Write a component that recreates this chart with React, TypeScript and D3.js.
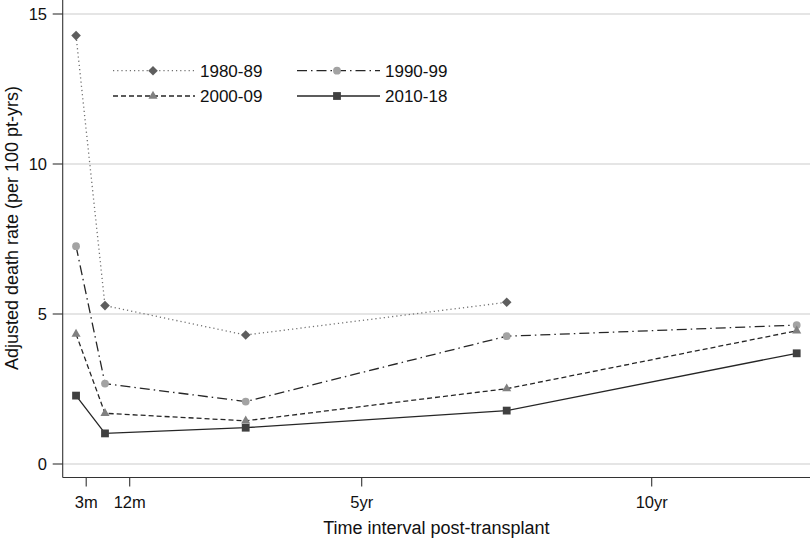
import React from "react";
import * as d3 from "d3";

const intervals = [0.075, 0.574, 3, 7.5, 12.5]; // years post-transplant (plotted positions)
const s1980 = [14.28, 5.28, 4.3, 5.39, null];
const s1990 = [7.26, 2.68, 2.08, 4.26, 4.63];
const s2000 = [4.33, 1.69, 1.44, 2.51, 4.44];
const s2010 = [2.28, 1.02, 1.21, 1.78, 3.69];

const seriesNames = ["1980-89", "1990-99", "2000-09", "2010-18"];
const xTickValues = [0.25, 1, 5, 10];
const xTickLabels = ["3m", "12m", "5yr", "10yr"];
const yTickValues = [0, 5, 10, 15];

const W = 810;
const H = 538;
const FONT = "'Liberation Sans', Arial, Helvetica, sans-serif";

type Style = {
  name: string;
  values: (number | null)[];
  stroke: string;
  dash: string;
  marker: "diamond" | "circle" | "triangle" | "square";
  fill: string;
};

const styles: Style[] = [
  { name: seriesNames[0], values: s1980, stroke: "#707070", dash: "1.2,3", marker: "diamond", fill: "#5e5e5e" },
  { name: seriesNames[1], values: s1990, stroke: "#262626", dash: "10,4,1.5,4", marker: "circle", fill: "#a3a3a3" },
  { name: seriesNames[2], values: s2000, stroke: "#262626", dash: "5,3", marker: "triangle", fill: "#808080" },
  { name: seriesNames[3], values: s2010, stroke: "#262626", dash: "", marker: "square", fill: "#404040" },
];

function Marker({ type, x, y, fill }: { type: string; x: number; y: number; fill: string }) {
  if (type === "diamond") {
    const r = 4.8;
    return <path d={`M${x},${y - r}L${x + r},${y}L${x},${y + r}L${x - r},${y}Z`} fill={fill} />;
  }
  if (type === "circle") return <circle cx={x} cy={y} r={3.9} fill={fill} />;
  if (type === "triangle") {
    const p = d3.symbol().type(d3.symbolTriangle).size(36)() as string;
    return <path d={p} transform={`translate(${x},${y})`} fill={fill} />;
  }
  const s = 7.8;
  return <rect x={x - s / 2} y={y - s / 2} width={s} height={s} fill={fill} />;
}

export default function App() {
  const x = d3.scaleLinear().domain([0, 10]).range([71.7, 651.7]);
  const y = d3.scaleLinear().domain([0, 15]).range([464, 14]);
  const plotLeft = 62.7;
  const plotRight = 810;
  const axisY = 477.5;

  const line = d3
    .line<[number, number | null]>()
    .defined((d) => d[1] !== null)
    .x((d) => x(d[0]))
    .y((d) => y(d[1] as number));

  const legendPos = [
    { x0: 113, xm: 153, x1: 195, tx: 200, ty: 70.7 },
    { x0: 297, xm: 337, x1: 380, tx: 385, ty: 70.7 },
    { x0: 113, xm: 153, x1: 195, tx: 200, ty: 96 },
    { x0: 297, xm: 337, x1: 380, tx: 385, ty: 96 },
  ];

  return (
    <svg width={W} height={H} style={{ position: "absolute", left: 0, top: 0, background: "#fff" }} fontFamily={FONT}>
      <rect x={0} y={0} width={W} height={H} fill="#fff" />
      {/* gridlines */}
      {yTickValues.map((v) => (
        <line key={"g" + v} x1={plotLeft} x2={plotRight} y1={y(v)} y2={y(v)} stroke="#dcdcdc" strokeWidth={1.3} />
      ))}
      {/* axes */}
      <line x1={plotLeft} x2={plotLeft} y1={0} y2={axisY} stroke="#333" strokeWidth={1.1} />
      <line x1={plotLeft} x2={plotRight} y1={axisY} y2={axisY} stroke="#333" strokeWidth={1.1} />
      {yTickValues.map((v) => (
        <g key={"yt" + v}>
          <line x1={plotLeft - 10} x2={plotLeft} y1={y(v)} y2={y(v)} stroke="#333" strokeWidth={1.1} />
          <text x={47} y={y(v)} dy="0.36em" textAnchor="end" fontSize={16.5} fill="#111">
            {v}
          </text>
        </g>
      ))}
      {xTickValues.map((v, i) => (
        <g key={"xt" + v}>
          <line x1={x(v)} x2={x(v)} y1={axisY} y2={axisY + 9} stroke="#333" strokeWidth={1.1} />
          <text x={x(v)} y={508} textAnchor="middle" fontSize={16.5} fill="#111">
            {xTickLabels[i]}
          </text>
        </g>
      ))}
      <text x={(plotLeft + plotRight) / 2} y={534} textAnchor="middle" fontSize={18} fill="#111">
        Time interval post-transplant
      </text>
      <text
        transform={`translate(17.5,${228}) rotate(-90)`}
        textAnchor="middle"
        fontSize={18}
        fill="#111"
      >
        Adjusted death rate (per 100 pt-yrs)
      </text>
      {/* series */}
      {styles.map((s) => {
        const pts = intervals.map((t, i) => [t, s.values[i]] as [number, number | null]);
        return (
          <g key={s.name}>
            <path d={line(pts) || ""} fill="none" stroke={s.stroke} strokeWidth={1.3} strokeDasharray={s.dash} />
            {pts
              .filter((p) => p[1] !== null)
              .map((p, i) => (
                <Marker key={i} type={s.marker} x={x(p[0])} y={y(p[1] as number)} fill={s.fill} />
              ))}
          </g>
        );
      })}
      {/* legend */}
      {styles.map((s, i) => {
        const L = legendPos[i];
        return (
          <g key={"lg" + s.name}>
            <line x1={L.x0} x2={L.x1} y1={L.ty} y2={L.ty} stroke={s.stroke} strokeWidth={1.3} strokeDasharray={s.dash} />
            <Marker type={s.marker} x={L.xm} y={L.ty} fill={s.fill} />
            <text x={L.tx} y={L.ty} dy="0.36em" fontSize={17} fill="#111">
              {s.name}
            </text>
          </g>
        );
      })}
    </svg>
  );
}
